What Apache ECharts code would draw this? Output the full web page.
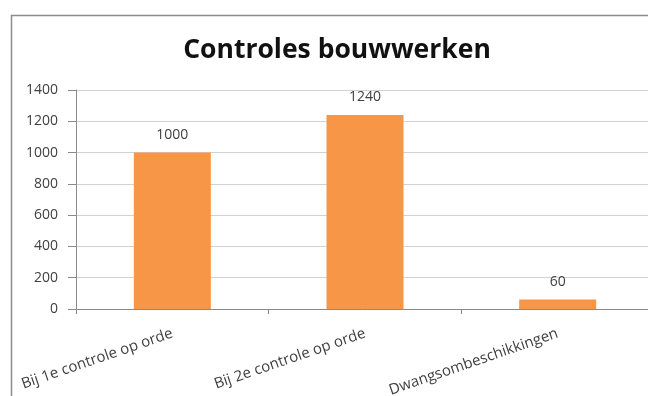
<!DOCTYPE html>
<html>
<head>
<meta charset="utf-8">
<script src="https://cdn.jsdelivr.net/npm/echarts@6/dist/echarts.min.js"></script>
<style>
  html, body { margin: 0; padding: 0; background: #ffffff; }
  #chart { width: 648px; height: 396px; }
</style>
</head>
<body>
<div id="chart"></div>
<script>
// Chart data
const titleText = 'Controles bouwwerken';
const categories = ['Bij 1e controle op orde', 'Bij 2e controle op orde', 'Dwangsombeschikkingen'];
const values = [1000, 1240, 60];
const yMin = 0;
const yMax = 1400;
const yStep = 200;

const chart = echarts.init(document.getElementById('chart'), null, { renderer: 'canvas' });

const axisFont = '"Open Sans", "Liberation Sans", sans-serif';

chart.setOption({
  backgroundColor: '#ffffff',
  animation: false,
  title: {
    text: titleText,
    left: 332,
    top: 32,
    textAlign: 'center',
    textStyle: {
      fontFamily: axisFont,
      fontWeight: 'bold',
      fontSize: 26.5,
      color: '#111111'
    }
  },
  graphic: [{
    type: 'rect',
    shape: { x: 11.5, y: 15.5, width: 700, height: 500 },
    style: { fill: 'none', stroke: '#8c8c8c', lineWidth: 1.5 },
    silent: true
  }],
  grid: {
    left: 76,
    top: 90,
    width: 578,
    height: 219,
    containLabel: false,
    outerBoundsMode: 'none'
  },
  xAxis: {
    type: 'category',
    data: categories,
    boundaryGap: true,
    axisLine: { show: true, lineStyle: { color: '#8a8a8a', width: 1 } },
    axisTick: { show: true, alignWithLabel: false, length: 5, lineStyle: { color: '#8a8a8a' } },
    axisLabel: {
      interval: 0,
      rotate: 19,
      margin: 24,
      fontFamily: axisFont,
      fontSize: 15,
      color: '#404040'
    }
  },
  yAxis: {
    type: 'value',
    min: yMin,
    max: yMax,
    interval: yStep,
    axisLine: { show: true, lineStyle: { color: '#8a8a8a', width: 1 } },
    axisTick: { show: true, inside: false, length: 8, lineStyle: { color: '#8a8a8a' } },
    axisLabel: {
      margin: 18,
      formatter: function (v) { return String(v); },
      fontFamily: axisFont,
      fontSize: 14,
      color: '#404040'
    },
    splitLine: { show: true, lineStyle: { color: '#cfd3d8', width: 1 } }
  },
  series: [{
    type: 'bar',
    data: values,
    barWidth: 77,
    itemStyle: { color: '#F79646' },
    label: {
      show: true,
      position: 'top',
      distance: 11,
      fontFamily: axisFont,
      fontSize: 14,
      color: '#404040'
    }
  }]
});
</script>
</body>
</html>
